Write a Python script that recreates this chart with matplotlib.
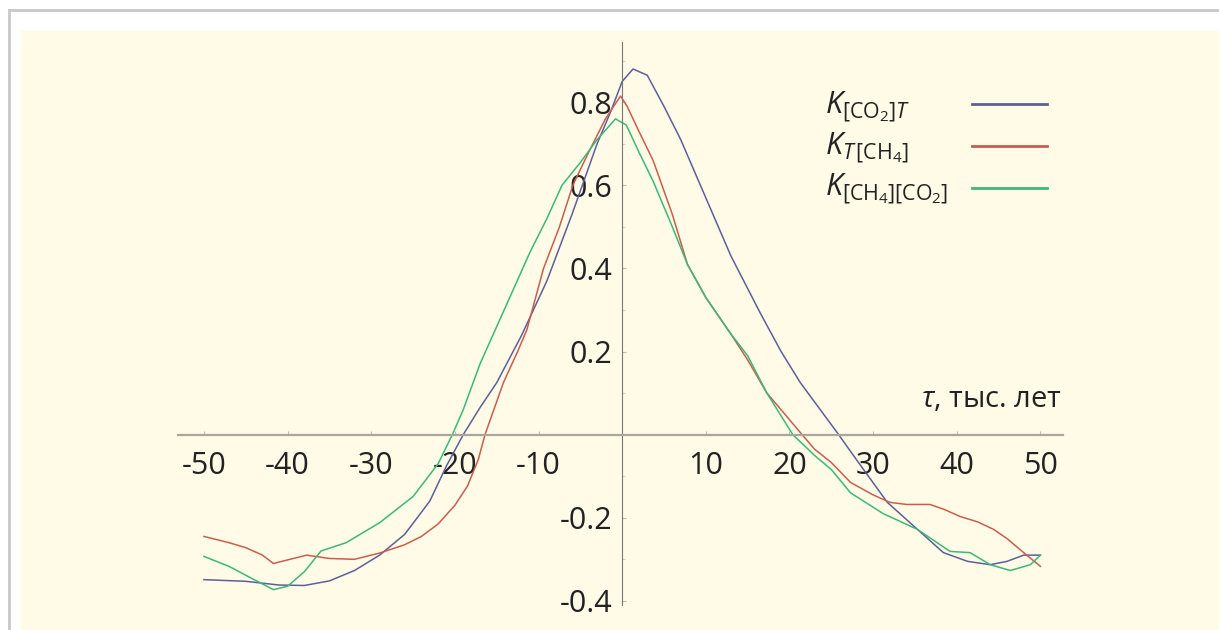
import numpy as np
import matplotlib
matplotlib.use("Agg")
import matplotlib.pyplot as plt
from matplotlib.lines import Line2D
from matplotlib.patches import Rectangle
from matplotlib.ticker import MultipleLocator

plt.rcParams['font.family'] = ['Open Sans', 'DejaVu Sans']
plt.rcParams['mathtext.fontset'] = 'custom'
plt.rcParams['mathtext.rm'] = 'Open Sans'
plt.rcParams['mathtext.it'] = 'Open Sans:italic'

# K[CO2]T
tau_co2_t = [-50, -45, -41, -38, -35, -32, -29, -26, -23, -21, -19, -17, -15, -12, -9, -6, -3,
             -1.4, 0, 1.3, 3, 5, 7, 10, 13, 16.5, 19, 21.3, 23.5, 25.7, 28, 31.7, 35.3, 38.4,
             41.3, 44, 46, 48, 50]
k_co2_t = [-0.349, -0.353, -0.362, -0.363, -0.352, -0.327, -0.29, -0.24, -0.16, -0.075, 0.0,
           0.065, 0.125, 0.24, 0.37, 0.53, 0.7, 0.776, 0.85, 0.88, 0.865, 0.79, 0.71, 0.57,
           0.43, 0.293, 0.2, 0.125, 0.065, 0.005, -0.06, -0.163, -0.228, -0.284, -0.305,
           -0.313, -0.305, -0.29, -0.29]

# K T[CH4]
tau_t_ch4 = [-50, -47, -45, -43, -41.7, -39.7, -37.7, -35, -32, -29, -26, -24, -22, -20,
             -18.5, -17.2, -16.4, -14.2, -12.5, -11.4, -9.4, -7.5, -5.9, -4, -2, -0.2, 0.6,
             2, 3.7, 6, 7.8, 10, 12.9, 15, 17.3, 19, 21.3, 23, 25, 27.3, 30, 32, 34, 36.8,
             38.5, 40.4, 42.5, 44.4, 46, 48, 50]
k_t_ch4 = [-0.245, -0.26, -0.272, -0.29, -0.31, -0.30, -0.29, -0.298, -0.30, -0.285, -0.265,
           -0.245, -0.215, -0.17, -0.124, -0.06, 0.0, 0.125, 0.2, 0.252, 0.4, 0.5, 0.6, 0.68,
           0.76, 0.815, 0.79, 0.73, 0.66, 0.53, 0.41, 0.33, 0.245, 0.18, 0.1, 0.06, 0.005,
           -0.035, -0.067, -0.115, -0.145, -0.163, -0.168, -0.168, -0.18, -0.197, -0.21,
           -0.228, -0.25, -0.284, -0.317]

# K[CH4][CO2]
tau_ch4_co2 = [-50, -47, -44, -41.7, -40, -38, -36, -33, -29, -25, -22, -20.3, -19, -17,
               -15, -13, -11, -9, -7.2, -5, -3, -0.8, 0.5, 2, 3.7, 6, 7.8, 10, 12.9, 15,
               17.3, 20.4, 23, 25, 27.3, 31.2, 35.3, 39.2, 41.6, 44, 46.4, 48.8, 50]
k_ch4_co2 = [-0.293, -0.317, -0.349, -0.373, -0.365, -0.33, -0.28, -0.26, -0.212, -0.149,
             -0.07, 0.0, 0.06, 0.17, 0.26, 0.35, 0.44, 0.52, 0.6, 0.655, 0.71, 0.76, 0.745,
             0.68, 0.61, 0.5, 0.41, 0.33, 0.245, 0.19, 0.1, 0.0, -0.05, -0.084, -0.14,
             -0.19, -0.228, -0.281, -0.284, -0.313, -0.327, -0.313, -0.29]

x_ticks = [-50, -40, -30, -20, -10, 10, 20, 30, 40, 50]
y_ticks = [-0.4, -0.2, 0.2, 0.4, 0.6, 0.8]

labels = [r"$K_{[\mathrm{CO}_2]T}$", r"$K_{T\,[\mathrm{CH}_4]}$",
          r"$K_{[\mathrm{CH}_4][\mathrm{CO}_2]}$"]
colors = ['#5e5e9c', '#c95d50', '#3db77a']

W, H = 1219, 630
fig = plt.figure(figsize=(W / 100, H / 100), dpi=100, facecolor='white')

# cream panel and grey frame
fig.patches.append(Rectangle((21 / W, 0), 1 - 21 / W, (H - 31) / H,
                             transform=fig.transFigure, color='#fffbe6', zorder=-10))
fig.lines.append(Line2D([9 / W, 9 / W], [0, (H - 10) / H], transform=fig.transFigure,
                        color='#c8c8c8', lw=2, zorder=-5))
fig.lines.append(Line2D([9 / W, 1], [(H - 10) / H, (H - 10) / H], transform=fig.transFigure,
                        color='#c8c8c8', lw=2, zorder=-5))

ax = fig.add_axes([178 / W, (H - 605) / H, 885 / W, 563 / H])
ax.set_facecolor('none')
ax.set_xlim(-53.1, 52.7)
ax.set_ylim(-0.41, 0.945)

lines = []
for xs, ys, c in [(tau_co2_t, k_co2_t, colors[0]),
                  (tau_t_ch4, k_t_ch4, colors[1]),
                  (tau_ch4_co2, k_ch4_co2, colors[2])]:
    ln, = ax.plot(xs, ys, color=c, lw=1.1, solid_joinstyle='round')
    lines.append(ln)

for s in ['top', 'right']:
    ax.spines[s].set_visible(False)
ax.spines['left'].set_position(('data', 0))
ax.spines['bottom'].set_position(('data', 0))
ax.spines['bottom'].set_color('#a9a69c')
ax.spines['bottom'].set_linewidth(1.6)
ax.spines['left'].set_color('#777777')
ax.spines['left'].set_linewidth(0.8)

ax.set_xticks(x_ticks)
ax.set_xticklabels([str(v) for v in x_ticks])
ax.set_yticks(y_ticks)
ax.set_yticklabels([f"{v:.1f}" for v in y_ticks])
ax.yaxis.set_minor_locator(MultipleLocator(0.1))
ax.tick_params(axis='x', direction='in', length=3, color='#bbbbbb', labelsize=22,
               pad=12, labelcolor='#222222')
ax.tick_params(axis='y', which='major', direction='in', length=3, color='#bbbbbb',
               labelsize=22, pad=7, labelcolor='#222222')
ax.tick_params(axis='y', which='minor', direction='in', length=2, color='#cccccc')

# axis caption
fig.text(1062 / W, (H - 407) / H, r"$\tau$, тыс. лет", fontsize=21, ha='right',
         va='baseline', color='#222222')

# legend: labels on the left, line samples on the right
for i, (lab, ln) in enumerate(zip(labels, lines)):
    yb = 113 + 41 * i
    fig.text(825 / W, (H - yb) / H, lab, fontsize=22, ha='left', va='baseline',
             color='#222222')
    yl = (H - (104 + 42 * i)) / H
    fig.lines.append(Line2D([972 / W, 1047 / W], [yl, yl], transform=fig.transFigure,
                            color=ln.get_color(), lw=2))

fig.savefig('out.png', dpi=100)
